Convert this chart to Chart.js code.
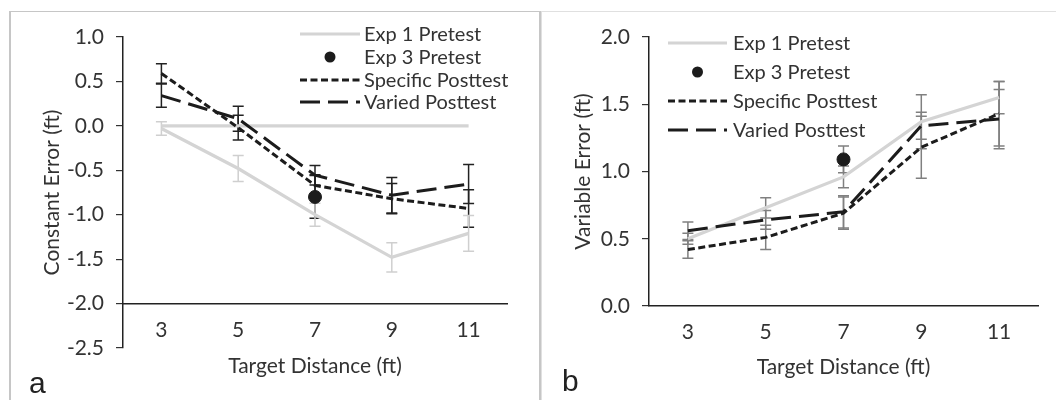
<!DOCTYPE html>
<html>
<head>
<meta charset="utf-8">
<script src="https://cdn.jsdelivr.net/npm/chart.js@4/dist/chart.umd.min.js"></script>
<style>
    html, body { margin: 0; padding: 0; background: #fff; width: 1056px; height: 400px; overflow: hidden; }
    #frameA { position: absolute; left: 9px; top: 11px; width: 528px; height: 400px; border-left: 2px solid #c6c6c6; border-top: 1px solid #c6c6c6; border-right: 2px solid #c6c6c6; }
    #frameB { position: absolute; left: 541px; top: 11px; width: 520px; height: 400px; border-left: 1px solid #e0e0e0; border-top: 1px solid #e0e0e0; }
    .box { position: absolute; top: 0; height: 400px; }
    #boxA { left: 0; width: 540px; }
    #boxB { left: 540px; width: 516px; }
    .tag { position: absolute; font-family: "Liberation Sans", Arial, sans-serif; font-size: 30px; color: #222; line-height: 1; }
</style>
</head>
<body>
<div id="frameA"></div>
<div id="frameB"></div>
<div class="box" id="boxA"><canvas id="chartA"></canvas></div>
<div class="box" id="boxB"><canvas id="chartB"></canvas></div>
<div class="tag" style="left:29px; top:368px;">a</div>
<div class="tag" style="left:562px; top:366px;">b</div>
<script>
const distances = ['3', '5', '7', '9', '11'];
const seriesNames = ['Exp 1 Pretest', 'Exp 3 Pretest', 'Specific Posttest', 'Varied Posttest'];

// panel a: constant error (ft)
const ceTicks = [-2.5, -2.0, -1.5, -1.0, -0.5, 0.0, 0.5, 1.0];
const ceZero = [0, 0, 0, 0, 0];
const ceExp1 = [-0.03, -0.48, -1.00, -1.48, -1.21];
const ceExp1Err = [0.075, 0.145, 0.13, 0.165, 0.20];
const ceExp3 = [null, null, -0.80, null, null];
const ceExp3Err = [null, null, 0.24, null, null];
const ceSpecific = [0.59, -0.02, -0.67, -0.82, -0.93];
const ceSpecificErr = [0.11, 0.14, 0.12, 0.17, 0.21];
const ceVaried = [0.34, 0.08, -0.555, -0.78, -0.655];
const ceVariedErr = [0.13, 0.14, 0.11, 0.20, 0.22];

// panel b: variable error (ft)
const veTicks = [0.0, 0.5, 1.0, 1.5, 2.0];
const veExp1 = [0.50, 0.73, 0.96, 1.37, 1.55];
const veExp1Err = [0.04, 0.075, 0.08, 0.20, 0.12];
const veExp3 = [null, null, 1.09, null, null];
const veExp3Err = [null, null, 0.10, null, null];
const veSpecific = [0.42, 0.51, 0.69, 1.18, 1.43];
const veSpecificErr = [0.065, 0.09, 0.12, 0.23, 0.24];
const veVaried = [0.56, 0.64, 0.70, 1.34, 1.39];
const veVariedErr = [0.065, 0.07, 0.12, 0.10, 0.22];

const FONT = 'Lato, "Open Sans", sans-serif';
const FS = 21;
const LEGEND_FS = 20;
const TEXT = '#333';
const GREY = '#d4d4d4';
const INK = '#1c1c1c';
const SHORT_DASH = [7, 3.5];
const LONG_DASH = [20, 8];

// error bars are drawn under the lines, from each dataset's "errors" list
const errorBars = {
    id: 'errorBars',
    beforeDatasetsDraw(chart) {
        const ctx = chart.ctx;
        const yScale = chart.scales.y;
        chart.data.datasets.forEach((ds, i) => {
            if (!ds.errors) return;
            const meta = chart.getDatasetMeta(i);
            ctx.save();
            ctx.strokeStyle = ds.errorColor;
            ctx.lineWidth = 1.5;
            ctx.setLineDash([]);
            meta.data.forEach((pt, j) => {
                const v = ds.data[j], e = ds.errors[j];
                if (v == null || e == null) return;
                const top = yScale.getPixelForValue(v + e);
                const bot = yScale.getPixelForValue(v - e);
                ctx.beginPath();
                ctx.moveTo(pt.x, top); ctx.lineTo(pt.x, bot);
                ctx.moveTo(pt.x - 5.5, top); ctx.lineTo(pt.x + 5.5, top);
                ctx.moveTo(pt.x - 5.5, bot); ctx.lineTo(pt.x + 5.5, bot);
                ctx.stroke();
            });
            ctx.restore();
        });
    }
};

// legend drawn in the upper part of the plot, one row per named series
const sideLegend = {
    id: 'sideLegend',
    afterDraw(chart, args, opts) {
        const ctx = chart.ctx;
        chart.data.datasets.forEach(ds => {
            if (ds.legendRow == null) return;
            const y = opts.rows[ds.legendRow];
            ctx.save();
            if (ds.showLine === false) {
                ctx.fillStyle = ds.pointBackgroundColor;
                ctx.beginPath();
                ctx.arc((opts.x0 + opts.x1) / 2, y, 5.5, 0, Math.PI * 2);
                ctx.fill();
            } else {
                ctx.strokeStyle = ds.borderColor;
                ctx.lineWidth = ds.borderWidth;
                ctx.setLineDash(ds.borderDash || []);
                ctx.beginPath();
                ctx.moveTo(opts.x0, y);
                ctx.lineTo(opts.x1, y);
                ctx.stroke();
            }
            ctx.setLineDash([]);
            ctx.fillStyle = TEXT;
            ctx.font = LEGEND_FS + 'px ' + FONT;
            ctx.textBaseline = 'middle';
            ctx.fillText(ds.label, opts.tx, y + 1);
            ctx.restore();
        });
    }
};

function makeDatasets(exp1, exp1Err, exp3, exp3Err, spec, specErr, varied, variedErr, barInk, barGrey) {
    return [
        { label: seriesNames[1], legendRow: 1, data: exp3, errors: exp3Err, errorColor: barInk,
          showLine: false, pointRadius: 6.5, pointBackgroundColor: INK, pointBorderColor: INK, borderColor: INK },
        { label: seriesNames[2], legendRow: 2, data: spec, errors: specErr, errorColor: barInk,
          borderColor: INK, borderWidth: 3, borderDash: SHORT_DASH, pointRadius: 0 },
        { label: seriesNames[3], legendRow: 3, data: varied, errors: variedErr, errorColor: barInk,
          borderColor: INK, borderWidth: 3, borderDash: LONG_DASH, pointRadius: 0 },
        { label: seriesNames[0], legendRow: 0, data: exp1, errors: exp1Err, errorColor: barGrey,
          borderColor: GREY, borderWidth: 3.2, pointRadius: 0 }
    ];
}

function yAxis(ticks, title, width, titlePad) {
    return {
        min: ticks[0],
        max: ticks[ticks.length - 1],
        afterBuildTicks: s => { s.ticks = ticks.map(v => ({ value: v })); },
        afterFit: s => { s.width = width; },
        grid: { drawOnChartArea: false, drawTicks: true, tickLength: 7, color: '#333', lineWidth: 1.2 },
        border: { display: true, color: '#222', width: 1.5 },
        ticks: { padding: 12, color: TEXT, font: { family: FONT, size: FS }, callback: v => v.toFixed(1) },
        title: { display: true, text: title, color: TEXT, font: { family: FONT, size: FS }, padding: { top: titlePad, bottom: 0 } }
    };
}

const xTitle = (top, bottom) => ({ display: true, text: 'Target Distance (ft)', color: TEXT,
    font: { family: FONT, size: FS }, padding: { top: top, bottom: bottom } });

// panel a
const datasetsA = makeDatasets(ceExp1, ceExp1Err, ceExp3, ceExp3Err, ceSpecific, ceSpecificErr, ceVaried, ceVariedErr, '#222', '#cfcfcf');
datasetsA.push({ label: '', data: ceZero, borderColor: GREY, borderWidth: 3.2, pointRadius: 0 });

new Chart(document.getElementById('chartA'), {
    type: 'line',
    data: { labels: distances, datasets: datasetsA },
    options: {
        responsive: true,
        maintainAspectRatio: false,
        animation: false,
        layout: { padding: { left: 0, right: 33, top: 37, bottom: 52 } },
        elements: { line: { tension: 0 } },
        plugins: {
            legend: { display: false },
            tooltip: { enabled: false },
            sideLegend: { x0: 300, x1: 360, tx: 364, rows: [34, 57, 80, 102] }
        },
        scales: {
            x: {
                position: { y: -2 },
                offset: true,
                grid: { display: false, drawTicks: false },
                border: { display: true, color: '#222', width: 1.5 },
                ticks: { padding: 14, color: TEXT, font: { family: FONT, size: FS } },
                title: xTitle(-3, 0)
            },
            y: yAxis(ceTicks, 'Constant Error (ft)', 123, 40)
        }
    },
    plugins: [errorBars, sideLegend]
});

// panel b
const datasetsB = makeDatasets(veExp1, veExp1Err, veExp3, veExp3Err, veSpecific, veSpecificErr, veVaried, veVariedErr, '#808080', '#808080');

new Chart(document.getElementById('chartB'), {
    type: 'line',
    data: { labels: distances, datasets: datasetsB },
    options: {
        responsive: true,
        maintainAspectRatio: false,
        animation: false,
        layout: { padding: { left: 0, right: 18, top: 37, bottom: 0 } },
        elements: { line: { tension: 0 } },
        plugins: {
            legend: { display: false },
            tooltip: { enabled: false },
            sideLegend: { x0: 128, x1: 187, tx: 193, rows: [43, 72, 101, 130] }
        },
        scales: {
            x: {
                offset: true,
                afterFit: s => { s.height = 94; },
                grid: { display: false, drawTicks: false },
                border: { display: true, color: '#222', width: 1.5 },
                ticks: { padding: 14, color: TEXT, font: { family: FONT, size: FS } },
                title: xTitle(0, 20)
            },
            y: yAxis(veTicks, 'Variable Error (ft)', 109, 31)
        }
    },
    plugins: [errorBars, sideLegend]
});
</script>
</body>
</html>
